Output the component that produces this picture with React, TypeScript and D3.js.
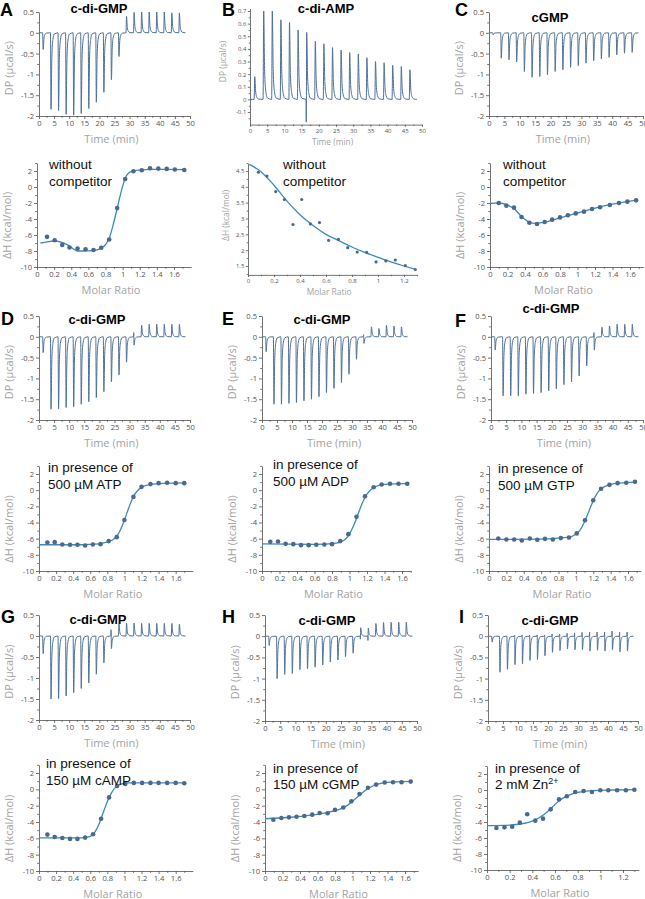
import { useEffect, useRef } from "react";
import * as d3 from "d3";

// ---------- injection schedule (min) ----------
const INJ_TIMES = [1.2, 3.8, 6.3, 8.8, 11.3, 13.8, 16.3, 18.8, 21.3, 23.8, 26.3, 28.8, 31.3, 33.8, 36.3, 38.8, 41.3, 43.8, 46.3];
const TRACE_END = 48.5;

// ---------- raw thermograms: peak height per injection (µcal/s) ----------
const A_PEAKS = [-0.4, -1.84, -1.87, -1.96, -1.98, -1.94, -1.82, -1.67, -1.43, -1.13, -0.57, 0.39, 0.49, 0.5, 0.5, 0.5, 0.5, 0.48, 0.48];
const B_PEAKS = [0.18, 0.7, 0.7, 0.63, 0.61, 0.55, 0.53, 0.46, 0.44, 0.41, 0.39, 0.37, 0.36, 0.33, 0.3, 0.29, 0.27, 0.26, 0.235];
const B_BLIPS = [0, 0, 0, 0, 0, 0, -0.18, 0, 0, 0, 0, 0, 0, 0, 0, 0, 0, 0, 0];
const C_PEAKS = [-0.05, -0.61, -0.65, -0.7, -0.93, -1.07, -1.05, -1.01, -0.93, -0.89, -0.83, -0.79, -0.73, -0.67, -0.63, -0.59, -0.53, -0.49, -0.47];
const D_PEAKS = [-0.38, -1.74, -1.73, -1.7, -1.68, -1.62, -1.56, -1.46, -1.32, -1.08, -0.92, -0.61, -0.2, 0.28, 0.3, 0.3, 0.3, 0.3, 0.3];
const D_BLIPS = [0, 0, 0, 0, 0, 0, 0, 0, 0, 0, 0, 0, 0.1, 0, 0, 0, 0, 0, 0];
const E_PEAKS = [-0.36, -1.62, -1.62, -1.6, -1.58, -1.54, -1.5, -1.44, -1.34, -1.24, -1.1, -0.9, -0.54, -0.16, 0.24, 0.2, 0.28, 0.26, 0.24];
const E_BLIPS = [0, 0, 0, 0, 0, 0, 0, 0, 0, 0, 0, 0, 0, 0.05, 0, 0, 0, 0, 0];
const F_PEAKS = [-0.32, -1.42, -1.42, -1.42, -1.38, -1.36, -1.34, -1.3, -1.25, -1.15, -1.08, -0.94, -0.7, -0.32, 0.23, 0.26, 0.3, 0.3, 0.3];
const F_BLIPS = [0, 0, 0, 0, 0, 0, 0, 0, 0, 0, 0, 0, 0, 0.1, 0, 0, 0, 0, 0];
const G_PEAKS = [-0.42, -1.5, -1.49, -1.43, -1.35, -1.25, -1.12, -0.91, -0.64, -0.3, 0.29, 0.31, 0.31, 0.3, 0.3, 0.3, 0.3, 0.3, 0.28];
const G_BLIPS = [0, 0, 0, 0, 0, 0, 0, 0, 0, 0.15, 0, 0, 0, 0, 0, 0, 0, 0, 0];
const H_PEAKS = [-0.22, -1.0, -0.9, -0.88, -0.79, -0.77, -0.73, -0.68, -0.61, -0.56, -0.48, -0.4, 0.2, 0.19, 0.3, 0.32, 0.33, 0.33, 0.33];
const H_BLIPS = [0, 0, 0, 0, 0, 0, 0, 0, 0, 0, 0, 0, -0.07, -0.1, 0, 0, 0, 0, 0];
const I_PEAKS = [-0.14, -0.85, -0.78, -0.67, -0.65, -0.57, -0.55, -0.46, -0.38, -0.34, -0.3, -0.32, -0.32, -0.35, -0.33, -0.35, -0.32, -0.37, -0.35];
const I_BLIPS = [0, 0, 0, 0.02, 0.03, 0.03, 0.03, 0.03, 0.05, 0.05, 0.07, 0.08, 0.09, 0.1, 0.1, 0.1, 0.12, 0.1, 0.1];

// ---------- integrated heats (molar ratio, kcal/mol) + fitted curves ----------
const A_RATIO = [0.117, 0.206, 0.295, 0.38, 0.474, 0.567, 0.66, 0.75, 0.843, 0.936, 1.03, 1.126, 1.223, 1.32, 1.417, 1.515, 1.61, 1.72];
const A_DH = [-6.23, -6.65, -7.24, -7.57, -7.7, -7.78, -7.87, -7.6, -6.57, -2.64, 1.0, 1.97, 2.1, 2.34, 2.3, 2.26, 2.18, 2.13];
const A_FIT_X = [0.04, 0.12, 0.2, 0.28, 0.35, 0.42, 0.47, 0.55, 0.65, 0.72, 0.77, 0.8, 0.84, 0.89, 0.94, 0.99, 1.03, 1.07, 1.12, 1.2, 1.35, 1.5, 1.72];
const A_FIT_Y = [-7.0, -6.85, -6.75, -6.9, -7.2, -7.7, -8.0, -8.0, -7.95, -7.8, -7.5, -7.2, -6.5, -4.7, -2.5, -0.3, 1.1, 1.75, 2.0, 2.12, 2.2, 2.2, 2.18];

const B_RATIO = [0.08, 0.146, 0.213, 0.28, 0.346, 0.413, 0.48, 0.55, 0.62, 0.695, 0.767, 0.84, 0.913, 0.985, 1.06, 1.133, 1.21, 1.287];
const B_DH = [4.46, 4.34, 3.85, 3.6, 2.81, 3.6, 2.83, 2.87, 2.31, 2.34, 2.08, 1.94, 1.93, 1.63, 1.66, 1.69, 1.51, 1.39];
const B_FIT_X = [0.01, 0.1, 0.2, 0.3, 0.4, 0.5, 0.6, 0.7, 0.8, 0.9, 1.0, 1.1, 1.2, 1.29];
const B_FIT_Y = [4.71, 4.48, 4.05, 3.55, 3.12, 2.78, 2.5, 2.3, 2.1, 1.93, 1.77, 1.63, 1.5, 1.39];

const C_RATIO = [0.1, 0.187, 0.274, 0.36, 0.45, 0.537, 0.625, 0.71, 0.8, 0.89, 0.98, 1.074, 1.166, 1.257, 1.37, 1.474, 1.57, 1.67];
const C_DH = [-2.0, -2.33, -2.58, -3.75, -4.46, -4.62, -4.37, -4.08, -3.8, -3.54, -3.3, -3.08, -2.75, -2.54, -2.25, -2.0, -1.83, -1.67];
const C_FIT_X = [0, 0.1, 0.2, 0.28, 0.36, 0.44, 0.52, 0.6, 0.8, 1.0, 1.2, 1.4, 1.67];
const C_FIT_Y = [-2.05, -2.0, -2.25, -2.75, -3.7, -4.35, -4.55, -4.45, -3.85, -3.25, -2.65, -2.15, -1.65];

const D_RATIO = [0.098, 0.184, 0.273, 0.363, 0.45, 0.54, 0.63, 0.72, 0.816, 0.91, 1.0, 1.105, 1.2, 1.305, 1.4, 1.5, 1.6, 1.7];
const D_DH = [-6.47, -6.43, -6.72, -6.76, -6.76, -6.85, -6.72, -6.68, -6.3, -5.81, -3.69, -0.83, 0.41, 0.75, 0.87, 0.91, 0.87, 0.87];
const D_FIT_X = [0, 0.5, 0.7, 0.8, 0.88, 0.94, 1.0, 1.05, 1.1, 1.15, 1.2, 1.3, 1.45, 1.72];
const D_FIT_Y = [-6.75, -6.75, -6.65, -6.4, -6.0, -5.2, -3.7, -2.2, -0.9, -0.1, 0.35, 0.7, 0.85, 0.9];

const E_RATIO = [0.095, 0.183, 0.27, 0.358, 0.446, 0.533, 0.62, 0.712, 0.8, 0.895, 0.987, 1.08, 1.177, 1.276, 1.368, 1.463, 1.56, 1.66];
const E_DH = [-6.39, -6.35, -6.64, -6.68, -6.8, -6.8, -6.76, -6.72, -6.68, -6.3, -5.44, -3.28, -0.75, 0.37, 0.7, 0.79, 0.79, 0.79];
const E_FIT_X = [0, 0.6, 0.85, 0.95, 1.0, 1.05, 1.1, 1.15, 1.2, 1.25, 1.3, 1.4, 1.66];
const E_FIT_Y = [-6.65, -6.7, -6.55, -6.1, -5.4, -4.3, -2.9, -1.5, -0.5, 0.1, 0.45, 0.72, 0.8];

const F_RATIO = [0.107, 0.2, 0.29, 0.377, 0.47, 0.556, 0.644, 0.735, 0.827, 0.92, 1.01, 1.105, 1.2, 1.29, 1.387, 1.48, 1.58, 1.68];
const F_DH = [-5.98, -6.1, -6.1, -6.22, -5.98, -6.14, -6.02, -6.1, -5.93, -5.85, -5.35, -3.73, -1.24, 0.17, 0.66, 0.87, 0.91, 1.04];
const F_FIT_X = [0, 0.6, 0.9, 1.0, 1.05, 1.1, 1.15, 1.2, 1.25, 1.3, 1.4, 1.5, 1.68];
const F_FIT_Y = [-6.1, -6.05, -5.85, -5.45, -4.9, -3.9, -2.6, -1.3, -0.3, 0.25, 0.7, 0.88, 1.0];

const G_RATIO = [0.098, 0.184, 0.273, 0.363, 0.45, 0.54, 0.633, 0.727, 0.82, 0.914, 1.01, 1.11, 1.207, 1.305, 1.4, 1.5, 1.6, 1.7];
const G_DH = [-5.54, -5.83, -5.95, -6.07, -6.07, -5.91, -5.5, -3.6, -0.99, 0.41, 0.66, 0.79, 0.79, 0.79, 0.79, 0.79, 0.79, 0.74];
const G_FIT_X = [0, 0.5, 0.6, 0.65, 0.7, 0.75, 0.8, 0.85, 0.9, 0.95, 1.05, 1.7];
const G_FIT_Y = [-5.95, -5.95, -5.75, -5.3, -4.3, -2.9, -1.5, -0.4, 0.3, 0.62, 0.78, 0.78];

const H_RATIO = [0.095, 0.187, 0.274, 0.36, 0.45, 0.54, 0.625, 0.716, 0.8, 0.895, 0.987, 1.08, 1.177, 1.27, 1.368, 1.463, 1.56, 1.665];
const H_DH = [-3.72, -3.51, -3.43, -3.35, -3.26, -3.1, -2.89, -2.93, -2.52, -2.23, -1.45, -0.58, 0.2, 0.58, 0.83, 0.87, 0.87, 0.95];
const H_FIT_X = [0, 0.3, 0.5, 0.7, 0.85, 0.95, 1.05, 1.15, 1.25, 1.35, 1.5, 1.67];
const H_FIT_Y = [-3.6, -3.42, -3.2, -2.85, -2.45, -1.9, -1.0, -0.1, 0.5, 0.8, 0.92, 0.97];

const I_RATIO = [0.083, 0.154, 0.222, 0.29, 0.355, 0.426, 0.494, 0.562, 0.636, 0.704, 0.778, 0.852, 0.926, 1.0, 1.07, 1.148, 1.225, 1.3];
const I_DH = [-4.75, -4.67, -4.58, -4.08, -3.04, -3.83, -3.58, -2.42, -1.17, -0.79, -0.25, -0.125, -0.25, -0.04, -0.04, -0.04, -0.04, 0.04];
const I_FIT_X = [0, 0.2, 0.3, 0.4, 0.5, 0.55, 0.6, 0.65, 0.7, 0.8, 0.9, 1.1, 1.3];
const I_FIT_Y = [-4.45, -4.38, -4.25, -3.9, -3.1, -2.5, -1.8, -1.2, -0.8, -0.3, -0.1, 0.0, 0.05];

// ---------- tick labels ----------
const TIME_TICKS = [0, 5, 10, 15, 20, 25, 30, 35, 40, 45, 50];
const DP_TICKS = [0.5, 0, -0.5, -1, -1.5, -2];
const DP_TICKS_B = [0.7, 0.6, 0.5, 0.4, 0.3, 0.2, 0.1, 0, -0.1];
const DH_TICKS = [2, 0, -2, -4, -6, -8, -10];
const DH_TICKS_B = [4.5, 4, 3.5, 3, 2.5, 2, 1.5];
const RATIO_TICKS = [0, 0.2, 0.4, 0.6, 0.8, 1, 1.2, 1.4, 1.6];
const RATIO_TICKS_SHORT = [0, 0.2, 0.4, 0.6, 0.8, 1, 1.2];

// ---------- texts ----------
const LETTERS = ["A", "B", "C", "D", "E", "F", "G", "H", "I"];
const TITLES = ["c-di-GMP", "c-di-AMP", "cGMP", "c-di-GMP", "c-di-GMP", "c-di-GMP", "c-di-GMP", "c-di-GMP", "c-di-GMP"];
const NOTE_1 = ["without", "without", "without", "in presence of", "in presence of", "in presence of", "in presence of", "in presence of", "in presence of"];
const NOTE_2 = ["competitor", "competitor", "competitor", "500 µM ATP", "500 µM ADP", "500 µM GTP", "150 µM cAMP", "150 µM cGMP", "2 mM Zn"];

// ---------- styling ----------
const TRACE = "#4f6f98";
const DOT = "#4a6890";
const FIT = "#3a8cb8";
const AXIS = "#505050";
const TICK_TXT = "#555";
const TITLE_TXT = "#a3a3a3";
const SANS = "'Open Sans', sans-serif";
const ARIAL = "'Liberation Sans', Arial, sans-serif";

type Sel = d3.Selection<SVGGElement, unknown, null, undefined>;

interface Layout {
  // [value, pixel] anchors + axis extent for x and y
  xa: [number, number, number, number];
  xe: [number, number];
  ya: [number, number, number, number];
  ye: [number, number];
  small?: boolean;
}

interface Panel {
  letter: [number, number];
  title: [number, number];
  note: [number, number, number];
  dp: Layout & { peaks: number[]; blips?: number[] };
  dh: Layout & { ratio: number[]; dh: number[]; fx: number[]; fy: number[] };
}

const DP_A = (x0: number, x1: number, y0: number, y1: number) => ({
  xa: [0, x0, 50, x1] as [number, number, number, number],
  xe: [0, 50] as [number, number],
  ya: [0.5, y0, -2, y1] as [number, number, number, number],
  ye: [-2, 0.5] as [number, number],
});
const DH_A = (x0: number, x16: number, ext: number, y2: number, y10: number) => ({
  xa: [0, x0, 1.6, x16] as [number, number, number, number],
  xe: [0, ext] as [number, number],
  ya: [2, y2, -10, y10] as [number, number, number, number],
  ye: [-10, 3] as [number, number],
});

const PANELS: Panel[] = [
  { letter: [0, 16], title: [99, 13], note: [49, 169, 186],
    dp: { ...DP_A(39, 190, 12, 116), peaks: A_PEAKS },
    dh: { ...DH_A(37, 174, 1.8, 171, 267), ratio: A_RATIO, dh: A_DH, fx: A_FIT_X, fy: A_FIT_Y } },
  { letter: [222, 16], title: [326, 13], note: [283, 169, 186],
    dp: { xa: [0, 250, 50, 422], xe: [0, 50], ya: [0.7, 11, -0.1, 112], ye: [-0.2, 0.72], small: true, peaks: B_PEAKS, blips: B_BLIPS },
    dh: { xa: [0, 248, 1.2, 404], xe: [0, 1.3], ya: [4.5, 171, 1.5, 266], ye: [1.22, 4.75], small: true, ratio: B_RATIO, dh: B_DH, fx: B_FIT_X, fy: B_FIT_Y } },
  { letter: [455, 16], title: [550, 22], note: [503, 169, 186],
    dp: { ...DP_A(489, 643, 12, 116), peaks: C_PEAKS },
    dh: { ...DH_A(490, 630, 1.75, 171, 267), ratio: C_RATIO, dh: C_DH, fx: C_FIT_X, fy: C_FIT_Y } },
  { letter: [1, 325], title: [97, 324], note: [48, 472, 489],
    dp: { ...DP_A(39, 190, 316, 420), peaks: D_PEAKS, blips: D_BLIPS },
    dh: { ...DH_A(39, 175.7, 1.8, 474, 571), ratio: D_RATIO, dh: D_DH, fx: D_FIT_X, fy: D_FIT_Y } },
  { letter: [222, 325], title: [322, 324], note: [273, 469, 486],
    dp: { ...DP_A(262, 412, 316, 420), peaks: E_PEAKS, blips: E_BLIPS },
    dh: { ...DH_A(262, 402, 1.7, 474, 571), ratio: E_RATIO, dh: E_DH, fx: E_FIT_X, fy: E_FIT_Y } },
  { letter: [455, 327], title: [551, 313], note: [498, 473, 490],
    dp: { ...DP_A(491, 643, 316, 420), peaks: F_PEAKS, blips: F_BLIPS },
    dh: { ...DH_A(489, 628, 1.75, 474, 571), ratio: F_RATIO, dh: F_DH, fx: F_FIT_X, fy: F_FIT_Y } },
  { letter: [1, 623], title: [98, 624], note: [46, 768, 785],
    dp: { ...DP_A(39, 190, 615, 720), peaks: G_PEAKS, blips: G_BLIPS },
    dh: { ...DH_A(39, 175.7, 1.8, 773, 871), ratio: G_RATIO, dh: G_DH, fx: G_FIT_X, fy: G_FIT_Y } },
  { letter: [222, 623], title: [327, 625], note: [273, 773, 789],
    dp: { ...DP_A(265, 417, 615, 721), peaks: H_PEAKS, blips: H_BLIPS },
    dh: { ...DH_A(265, 405, 1.75, 773, 871), ratio: H_RATIO, dh: H_DH, fx: H_FIT_X, fy: H_FIT_Y } },
  { letter: [459, 623], title: [550, 625], note: [495, 773, 789],
    dp: { ...DP_A(488, 638, 615, 721), peaks: I_PEAKS, blips: I_BLIPS },
    dh: { xa: [0, 487, 1.2, 623], xe: [0, 1.34], ya: [2, 774, -10, 870], ye: [-10, 3], ratio: I_RATIO, dh: I_DH, fx: I_FIT_X, fy: I_FIT_Y } },
];

function anchored(a: [number, number, number, number], ext: [number, number]) {
  const [v0, p0, v1, p1] = a;
  const k = (p1 - p0) / (v1 - v0);
  return d3.scaleLinear().domain(ext).range([p0 + (ext[0] - v0) * k, p0 + (ext[1] - v0) * k]);
}

// minor ticks halfway between majors, across the whole axis extent
function minorTicks(major: number[], ext: [number, number]) {
  const h = Math.abs(major[1] - major[0]) / 2;
  const lo = Math.ceil(Math.min(...ext) / h - 1e-6);
  const hi = Math.floor(Math.max(...ext) / h + 1e-6);
  return d3.range(lo, hi + 1).filter((n) => Math.abs(n) % 2 === 1).map((n) => n * h);
}

function drawAxes(g: Sel, x: d3.ScaleLinear<number, number>, y: d3.ScaleLinear<number, number>,
  xTicks: number[], yTicks: number[], xe: [number, number], ye: [number, number], small?: boolean) {
  const fs = small ? 6 : 7.6;
  const yAxisX = x(xe[0]);
  const xAxisY = y(ye[0]);
  const fmt = (d: d3.NumberValue) => String(+d);

  const style = (s: Sel) => {
    s.attr("font-family", SANS).attr("font-size", fs);
    s.select(".domain").attr("stroke", AXIS).attr("stroke-width", 0.8);
    s.selectAll(".tick line").attr("stroke", AXIS).attr("stroke-width", 0.8);
    s.selectAll(".tick text").attr("fill", TICK_TXT);
  };

  const gy = g.append("g").attr("transform", `translate(${yAxisX},0)`)
    .call(d3.axisLeft(y).tickValues(yTicks).tickFormat(fmt).tickSize(small ? 2.2 : 3).tickSizeOuter(0).tickPadding(small ? 1.5 : 2));
  style(gy);
  const gym = g.append("g").attr("transform", `translate(${yAxisX},0)`)
    .call(d3.axisLeft(y).tickValues(minorTicks(yTicks, ye)).tickFormat(() => "").tickSize(small ? 1.3 : 1.8).tickSizeOuter(0));
  style(gym);
  gym.select(".domain").remove();

  const gx = g.append("g").attr("transform", `translate(0,${xAxisY})`)
    .call(d3.axisBottom(x).tickValues(xTicks).tickFormat(fmt).tickSize(small ? 2.2 : 3).tickSizeOuter(0).tickPadding(small ? 1.5 : 2));
  style(gx);
  const gxm = g.append("g").attr("transform", `translate(0,${xAxisY})`)
    .call(d3.axisBottom(x).tickValues(minorTicks(xTicks, xe)).tickFormat(() => "").tickSize(small ? 1.3 : 1.8).tickSizeOuter(0));
  style(gxm);
  gxm.select(".domain").remove();
}

function axisTitles(g: Sel, x: d3.ScaleLinear<number, number>, y: d3.ScaleLinear<number, number>,
  xe: [number, number], ye: [number, number], xLabel: string, yLabel: string, yMid: number,
  yOffset: number, small?: boolean) {
  const fs = small ? 8.4 : 11;
  g.append("text")
    .attr("x", x(xe[0] + (xe[1] - xe[0]) * 0.48)).attr("y", y(ye[0]) + (small ? 20 : 27))
    .attr("text-anchor", "middle").attr("font-family", SANS).attr("font-size", fs).attr("fill", TITLE_TXT)
    .text(xLabel);
  g.append("text")
    .attr("transform", `translate(${x(xe[0]) - yOffset},${y(yMid)}) rotate(-90)`)
    .attr("text-anchor", "middle").attr("dominant-baseline", "central")
    .attr("font-family", SANS).attr("font-size", fs).attr("fill", TITLE_TXT)
    .text(yLabel);
}

function tracePoints(peaks: number[], blips?: number[]) {
  const pts: [number, number][] = [[0, 0]];
  INJ_TIMES.forEach((t, i) => {
    const p = peaks[i];
    const b = blips ? blips[i] : 0;
    pts.push([t, 0]);
    if (b) pts.push([t + 0.06, b], [t + 0.1, 0]);
    pts.push([t + 0.18, p], [t + 0.45, p * 0.32], [t + 0.8, p * 0.09], [t + 1.3, p * 0.015]);
  });
  pts.push([TRACE_END, 0]);
  return pts;
}

function drawPanel(root: d3.Selection<SVGSVGElement, unknown, null, undefined>, p: Panel, i: number) {
  const g = root.append("g") as unknown as Sel;

  // ---- raw thermogram ----
  const dp = p.dp;
  const x1 = anchored(dp.xa, dp.xe);
  const y1 = anchored(dp.ya, dp.ye);
  drawAxes(g, x1, y1, TIME_TICKS, dp.small ? DP_TICKS_B : DP_TICKS, dp.xe, dp.ye, dp.small);
  const line = d3.line<[number, number]>().x((d) => x1(d[0])).y((d) => y1(d[1])).curve(d3.curveMonotoneX);
  g.append("path").attr("d", line(tracePoints(dp.peaks, dp.blips)) as string)
    .attr("fill", "none").attr("stroke", TRACE).attr("stroke-width", 1).attr("stroke-linejoin", "round");
  axisTitles(g, x1, y1, dp.xe, dp.ye, "Time (min)", "DP (µcal/s)", dp.small ? 0.3 : -0.85, dp.small ? 28 : 31, dp.small);

  // ---- isotherm ----
  const dh = p.dh;
  const x2 = anchored(dh.xa, dh.xe);
  const y2 = anchored(dh.ya, dh.ye);
  drawAxes(g, x2, y2, dh.xe[1] < 1.5 ? RATIO_TICKS_SHORT : RATIO_TICKS, dh.small ? DH_TICKS_B : DH_TICKS, dh.xe, dh.ye, dh.small);
  const fit = d3.line<number>().x((d) => x2(d)).y((_, k) => y2(dh.fy[k])).curve(d3.curveMonotoneX);
  g.append("path").attr("d", fit(dh.fx) as string)
    .attr("fill", "none").attr("stroke", FIT).attr("stroke-width", 1.3);
  g.selectAll("circle.pt").data(dh.ratio).join("circle")
    .attr("cx", (d) => x2(d)).attr("cy", (_, k) => y2(dh.dh[k]))
    .attr("r", dh.small ? 1.6 : 2.3).attr("fill", DOT);
  axisTitles(g, x2, y2, dh.xe, dh.ye, "Molar Ratio", "ΔH (kcal/mol)", dh.small ? 3.1 : -4.8, dh.small ? 23 : 31, dh.small);

  // ---- texts ----
  g.append("text").attr("x", p.letter[0]).attr("y", p.letter[1])
    .attr("font-family", ARIAL).attr("font-weight", 700).attr("font-size", 18).attr("fill", "#000")
    .text(LETTERS[i]);
  g.append("text").attr("x", p.title[0]).attr("y", p.title[1]).attr("text-anchor", "middle")
    .attr("font-family", ARIAL).attr("font-weight", 700).attr("font-size", 13).attr("fill", "#000")
    .text(TITLES[i]);
  const note = g.append("g").attr("font-family", ARIAL).attr("font-size", 13.5).attr("fill", "#111");
  note.append("text").attr("x", p.note[0]).attr("y", p.note[1]).text(NOTE_1[i]);
  const n2 = note.append("text").attr("x", p.note[0]).attr("y", p.note[2]).text(NOTE_2[i]);
  if (NOTE_2[i].endsWith("Zn")) {
    n2.append("tspan").attr("font-size", 9).attr("dy", -5).text("2+");
  }
}

export default function App() {
  const ref = useRef<SVGSVGElement>(null);

  useEffect(() => {
    if (!ref.current) return;
    const svg = d3.select(ref.current);
    svg.selectAll("*").remove();
    PANELS.forEach((p, i) => drawPanel(svg, p, i));
  }, []);

  return (
    <svg
      ref={ref}
      width={645}
      height={899}
      viewBox="0 0 645 899"
      style={{ position: "absolute", left: 0, top: 0, background: "#fff" }}
    />
  );
}
